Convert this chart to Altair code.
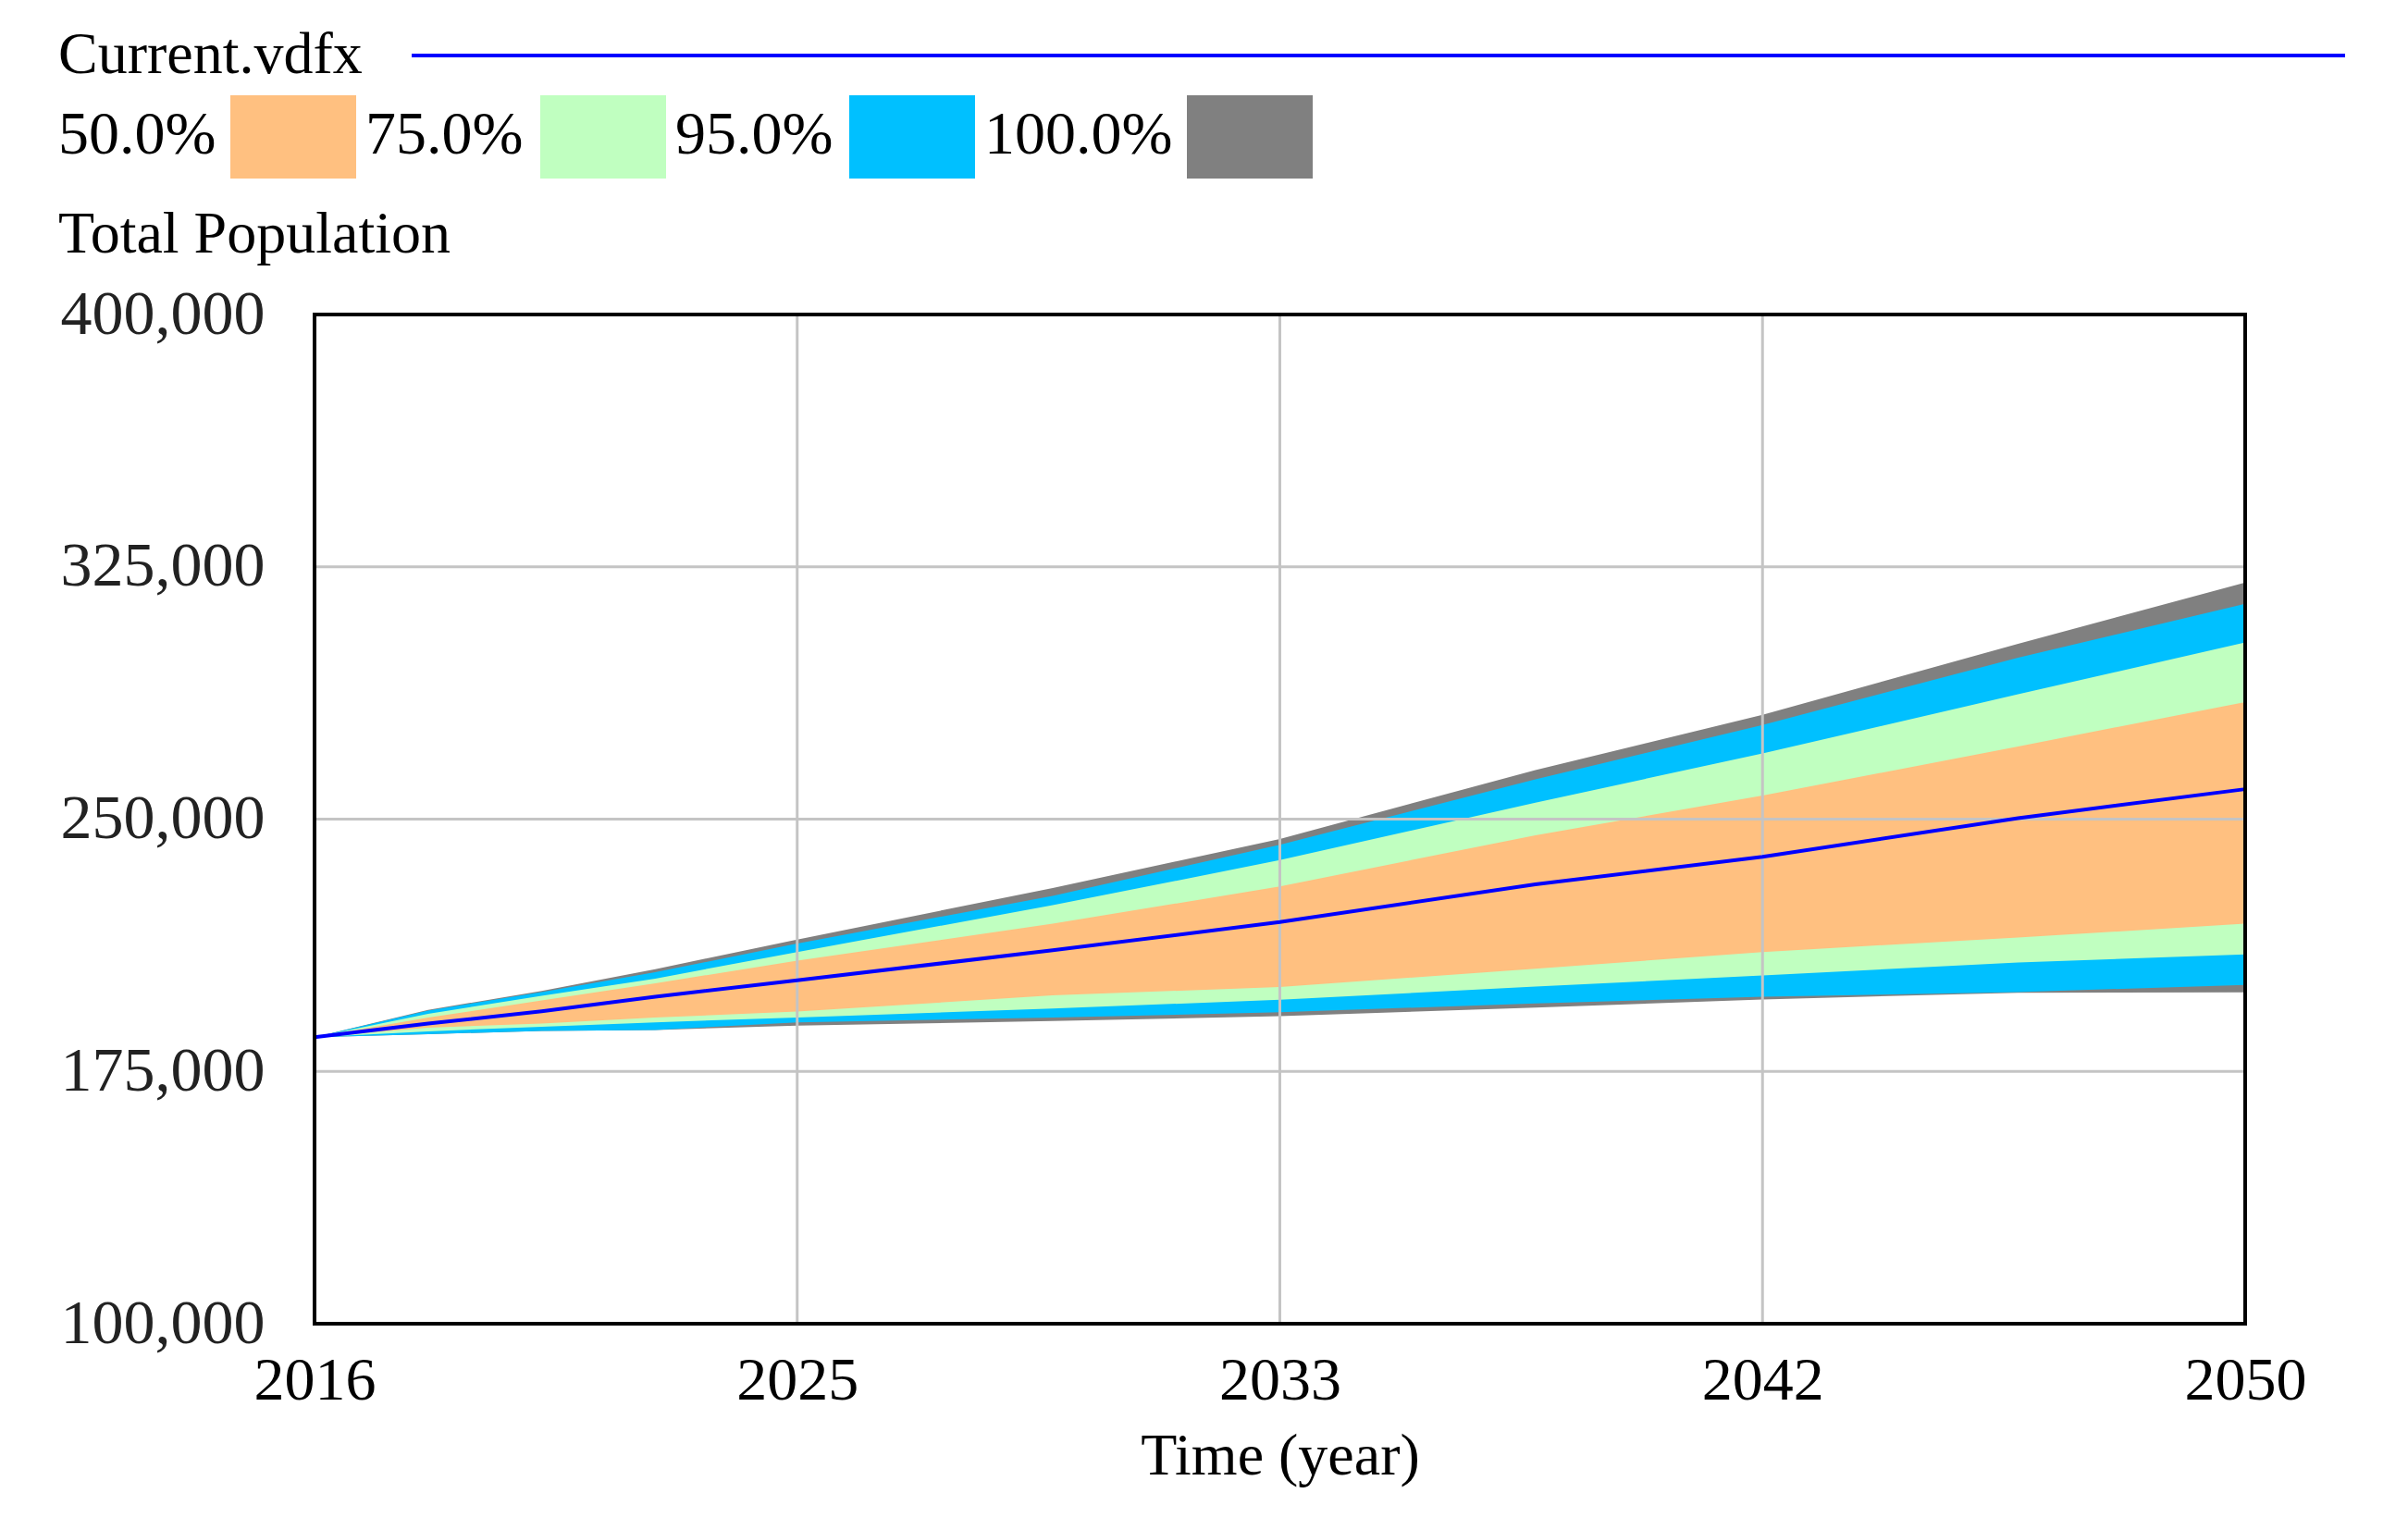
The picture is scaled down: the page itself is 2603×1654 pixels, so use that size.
import altair as alt
import pandas as pd

# ---------------- data ----------------
years = [2016, 2018, 2020, 2022, 2024.5, 2029, 2033, 2037.5, 2041.5, 2046, 2050]
p100_hi = [185200, 193300, 198900, 205400, 214200, 229500, 244100, 264600, 281000, 302100, 320300]
p95_hi = [185200, 193100, 198600, 204500, 213000, 227200, 242400, 261800, 278000, 298000, 314000]
p75_hi = [185200, 192100, 197500, 202600, 210500, 224400, 237800, 254900, 269500, 287100, 302500]
p50_hi = [185200, 191000, 196100, 201200, 207900, 218900, 230000, 245200, 257000, 271600, 284800]
current = [185200, 189200, 192900, 197200, 202100, 211000, 219400, 230600, 238800, 250300, 258900]
p50_lo = [185200, 188000, 189200, 191000, 192800, 197600, 200100, 205500, 210500, 214800, 218900]
p75_lo = [185200, 186900, 188300, 189600, 191000, 193700, 196300, 200200, 203500, 207400, 209800]
p95_lo = [185200, 186100, 187000, 187300, 189600, 191000, 192600, 195200, 197200, 198600, 200700]
p100_lo = [185200, 186100, 187000, 187300, 188600, 190000, 191400, 194000, 196400, 198400, 198500]

band_labels = ["50.0%", "75.0%", "95.0%", "100.0%"]
band_colors = ["#FFC080", "#C0FFC0", "#00C0FF", "#808080"]
line_label = "Current.vdfx"
line_color = "#0000FF"
y_title = "Total Population"
x_title = "Time (year)"
y_ticks = [100000, 175000, 250000, 325000, 400000]
x_ticks = [2016, 2024.5, 2033, 2041.5, 2050]

df = pd.DataFrame({
    "year": years,
    "p100_hi": p100_hi, "p95_hi": p95_hi, "p75_hi": p75_hi, "p50_hi": p50_hi,
    "current": current,
    "p50_lo": p50_lo, "p75_lo": p75_lo, "p95_lo": p95_lo, "p100_lo": p100_lo,
})

# ---------------- layout ----------------
W, H = 2087, 1091
FONT = "Liberation Serif"
one = pd.DataFrame({"k": [0]})

xs = alt.Scale(domain=[2016, 2050], nice=False, zero=False)
ys = alt.Scale(domain=[100000, 400000], nice=False, zero=False)

x_axis = alt.Axis(values=x_ticks, labelExpr="format(round(datum.value), 'd')",
                  grid=False, ticks=False, tickSize=0, domain=False,
                  labelFont=FONT, labelFontSize=66, labelColor="black",
                  labelPadding=29, labelFlush=False, labelOverlap=False, labelLimit=0,
                  title=x_title, titleFont=FONT, titleFontSize=64,
                  titleFontWeight="normal", titleColor="black", titlePadding=17)
y_axis = alt.Axis(values=y_ticks, labelExpr="format(datum.value, ',')",
                  grid=False, ticks=False, tickSize=0,
                  domain=False, labelFont=FONT, labelFontSize=68, labelColor="#222222",
                  labelPadding=54, labelFlush=False, labelOverlap=False, labelLimit=0,
                  title=None)

layers = []
bands = [("p100_lo", "p100_hi", band_colors[3]),
         ("p95_lo", "p95_hi", band_colors[2]),
         ("p75_lo", "p75_hi", band_colors[1]),
         ("p50_lo", "p50_hi", band_colors[0])]
for lo, hi, col in bands:
    layers.append(
        alt.Chart(df).mark_area(color=col, opacity=1).encode(
            x=alt.X("year:Q", scale=xs, axis=x_axis),
            y=alt.Y(f"{lo}:Q", scale=ys, axis=y_axis),
            y2=f"{hi}:Q",
        )
    )

# grid lines on top of the bands
layers.append(
    alt.Chart(pd.DataFrame({"v": y_ticks})).mark_rule(color="#C4C4C4", strokeWidth=3).encode(
        y=alt.Y("v:Q", scale=ys, axis=y_axis))
)
layers.append(
    alt.Chart(pd.DataFrame({"v": x_ticks})).mark_rule(color="#C4C4C4", strokeWidth=3).encode(
        x=alt.X("v:Q", scale=xs, axis=x_axis))
)

# current run line
layers.append(
    alt.Chart(df).mark_line(color=line_color, strokeWidth=4).encode(
        x=alt.X("year:Q", scale=xs, axis=x_axis),
        y=alt.Y("current:Q", scale=ys, axis=y_axis),
    )
)

# frame
layers.append(
    alt.Chart(one).mark_rect(filled=False, stroke="black", strokeWidth=4).encode(
        x=alt.value(0), x2=alt.value(W), y=alt.value(0), y2=alt.value(H))
)

txt = dict(align="left", baseline="middle", font=FONT, color="black")

# legend row 1: current line
layers.append(alt.Chart(one).mark_text(fontSize=64, **txt).encode(
    x=alt.value(-277), y=alt.value(-280), text=alt.value(line_label)))
layers.append(alt.Chart(one).mark_rule(color=line_color, strokeWidth=4).encode(
    x=alt.value(105), x2=alt.value(2195), y=alt.value(-280)))

# legend row 2: bands (label, then swatch)
label_x = [-277, 55, 390, 724]
swatch_x = [-91, 244, 578, 943]
for lab, col, lx, sx in zip(band_labels, band_colors, label_x, swatch_x):
    layers.append(alt.Chart(one).mark_text(fontSize=66, **txt).encode(
        x=alt.value(lx), y=alt.value(-194), text=alt.value(lab)))
    layers.append(alt.Chart(one).mark_rect(color=col).encode(
        x=alt.value(sx), x2=alt.value(sx + 136), y=alt.value(-237), y2=alt.value(-147)))

# y title above the axis
layers.append(alt.Chart(one).mark_text(fontSize=64, **txt).encode(
    x=alt.value(-277), y=alt.value(-86), text=alt.value(y_title)))

chart = alt.layer(*layers).properties(
    width=W, height=H,
    padding={"left": 332, "top": 332, "right": 168, "bottom": 215},
    autosize=alt.AutoSizeParams(type="none"),
).configure_view(stroke=None).configure(background="white")

chart.save("out.html", embed_options={"renderer": "svg", "actions": False})
